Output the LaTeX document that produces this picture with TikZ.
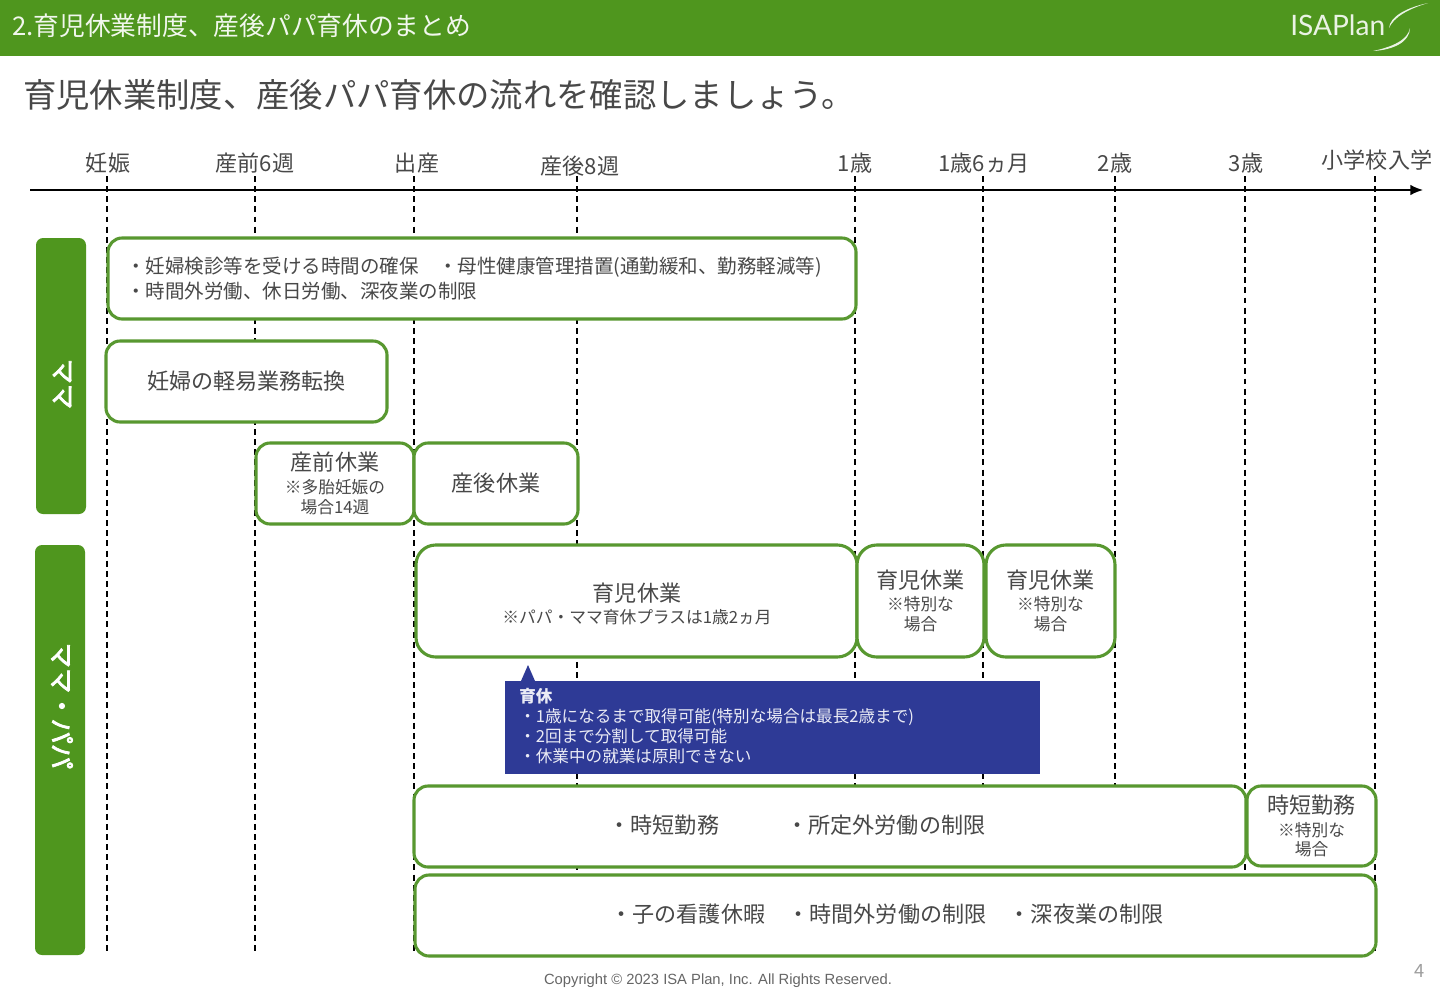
\documentclass[tikz,border=0pt]{standalone}
\usepackage{fontspec}
\setmainfont{Noto Sans CJK JP}
\newfontfamily\logofont{Lato}
\newfontfamily\copyfont{Liberation Sans}
\newfontfamily\tabfont[FakeBold=3]{Noto Sans CJK JP}
\usepackage{xcolor}
\usetikzlibrary{positioning, shapes}
\usetikzlibrary{arrows.meta}
\definecolor{leaf}{RGB}{79,150,30}
\definecolor{edgegreen}{RGB}{88,152,48}
\definecolor{navy}{RGB}{46,58,150}
\definecolor{ink}{RGB}{72,72,72}
\newcommand{\px}{0.025cm}
\newcommand{\mainsize}{\fontsize{15.7}{14.2}\selectfont}
\newcommand{\notesize}{\fontsize{11.9}{14.2}\selectfont}

\begin{document}
\begin{tikzpicture}[x=0.025cm,y=-0.025cm]
    \tikzset{ruler/.style = {dashed, dash pattern=on 4.2pt off 3pt, line width=1pt, black}}
    \tikzset{tick/.style = {inner sep=0pt, text=ink, font=\mainsize}}
    \tikzset{period/.style 2 args = {draw=edgegreen, line width=2.2pt, fill=white, rounded corners=10pt, inner sep=0pt, align=center, text=ink, font=\mainsize, minimum width=#1*\px, minimum height=#2*\px}}
    \tikzset{tab/.style 2 args = {fill=leaf, rounded corners=5pt, inner sep=0pt, minimum width=#1*\px, minimum height=#2*\px}}
    \tikzset{tablabel/.style = {rotate=-90, inner sep=0pt, text=white, font=\fontsize{18}{20}\selectfont\tabfont}}
    \tikzset{boxlabel/.style = {inner sep=0pt, text=ink, font=\mainsize}}

    \useasboundingbox (0,0) rectangle (1440,994);
    \fill[white] (0,0) rectangle (1440,994);

    % header
    \fill[leaf] (0,0) rectangle (1440,56);
    \node[inner sep=0pt, anchor=west, text=white!92!leaf, font=\fontsize{18.3}{20}\selectfont] (header) at (12,26) {2.育児休業制度、産後パパ育休のまとめ};
    \node[inner sep=0pt, anchor=west, text=white!88!leaf, font=\fontsize{20}{24}\selectfont\logofont] (logo) at (1290,25) {ISAPlan};
    \fill[white!88!leaf] (1428,3) .. controls (1405,8) and (1390,17) .. (1389,28) .. controls (1394,17) and (1408,9) .. (1428,3);
    \fill[white!88!leaf] (1410,28) .. controls (1408,40) and (1392,47) .. (1373,51) .. controls (1393,50) and (1410,42) .. (1410,28);
    \node[inner sep=0pt, anchor=west, text=ink, font=\fontsize{23.7}{28}\selectfont] (title) at (23,95) {育児休業制度、産後パパ育休の流れを確認しましょう。};

    % time points
    \node[tick] (pregnant) at (108,163) {妊娠};
    \node[tick] (before) at (255,163) {産前6週};
    \node[tick] (birth) at (417,163) {出産};
    \node[tick] (after) at (580,166) {産後8週};
    \node[tick] (age1) at (855,163) {1歳};
    \node[tick] (age1half) at (984,163) {1歳6ヵ月};
    \node[tick] (age2) at (1115,163) {2歳};
    \node[tick] (age3) at (1246,163) {3歳};
    \node[tick] (school) at (1377,160) {小学校入学};

    \coordinate (pregnanttop) at (107,176);
    \coordinate (pregnantend) at (107,955);
    \coordinate (beforetop) at (255,176);
    \coordinate (beforeend) at (255,955);
    \coordinate (birthtop) at (414,176);
    \coordinate (birthend) at (414,955);
    \coordinate (aftertop) at (577,176);
    \coordinate (afterend) at (577,875);
    \coordinate (age1top) at (855,176);
    \coordinate (age1end) at (855,790);
    \coordinate (age1halftop) at (983,176);
    \coordinate (age1halfend) at (983,790);
    \coordinate (age2top) at (1115,176);
    \coordinate (age2end) at (1115,790);
    \coordinate (age3top) at (1245,176);
    \coordinate (age3end) at (1245,870);
    \coordinate (schooltop) at (1375,176);
    \coordinate (schoolend) at (1375,955);

    \draw[ruler] (pregnanttop) -- (pregnantend);
    \draw[ruler] (beforetop) -- (beforeend);
    \draw[ruler] (birthtop) -- (birthend);
    \draw[ruler] (aftertop) -- (afterend);
    \draw[ruler] (age1top) -- (age1end);
    \draw[ruler] (age1halftop) -- (age1halfend);
    \draw[ruler] (age2top) -- (age2end);
    \draw[ruler] (age3top) -- (age3end);
    \draw[ruler] (schooltop) -- (schoolend);

    % axis
    \coordinate (axisstart) at (30,190);
    \coordinate (axisend) at (1423,190);
    \draw[-{Latex[length=9pt,width=7.5pt]}, line width=1.1pt] (axisstart) -- (axisend);

    % tabs
    \node[tab={50}{276}] (mama) at (61,376) {};
    \node[tab={50}{410}] (both) at (60,750) {};
    \node[tablabel] (mamalabel) at (62,384) {ママ};
    \node[tablabel] (bothlabel) at (62,706) {ママ・パパ};

    % mother only
    \node[period={748}{81}, align=left, text width=712*\px] (care) at (482,278.5) {\fontsize{13.87}{17}\selectfont ・妊婦検診等を受ける時間の確保　・母性健康管理措置(通勤緩和、勤務軽減等)\\[2pt]\fontsize{13.87}{17}\selectfont ・時間外労働、休日労働、深夜業の制限};
    \node[period={281}{81}] (light) at (246.5,381.5) {妊婦の軽易業務転換};
    \node[period={158}{81}] (prenatal) at (335,483.5) {産前休業\\[2pt]\notesize ※多胎妊娠の\\\notesize 場合14週};
    \node[period={164}{81}] (postnatal) at (496,483.5) {産後休業};

    % both parents
    \node[period={441}{112}, rounded corners=14pt] (leave) at (636.5,601) {};
    \node[boxlabel, align=center] (leavelabel) at (637,604) {育児休業\\[2pt]\notesize ※パパ・ママ育休プラスは1歳2ヵ月};
    \node[period={127}{112}, rounded corners=14pt] (leaveone) at (920.5,601) {育児休業\\[2pt]\notesize ※特別な\\\notesize 場合};
    \node[period={129}{112}, rounded corners=14pt] (leavetwo) at (1050.5,601) {育児休業\\[2pt]\notesize ※特別な\\\notesize 場合};

    % callout
    \node[fill=navy, inner sep=0pt, minimum width=535*\px, minimum height=93*\px, anchor=north west] (note) at (505,681) {};
    \coordinate (notetip) at (528,665);
    \coordinate (notebaseleft) at (521,681);
    \coordinate (notebaseright) at (535,681);
    \fill[navy] (notetip) -- (notebaseleft) -- (notebaseright) -- cycle;
    \node[inner sep=0pt, anchor=north west, align=left, text=white!90!navy, font=\fontsize{11.8}{14.2}\selectfont] (notetext) at (519,688) {\textbf{育休}\\・1歳になるまで取得可能(特別な場合は最長2歳まで)\\・2回まで分割して取得可能\\・休業中の就業は原則できない};

    \node[period={832}{81}] (short) at (830,826.5) {};
    \node[boxlabel] (shortlabel) at (797,825) {・時短勤務\hspace{48pt}・所定外労働の制限};
    \node[period={129}{80}] (shorttwo) at (1311.5,826) {時短勤務\\[2pt]\notesize ※特別な\\\notesize 場合};
    \node[period={961}{81}] (nursing) at (895.5,915.5) {};
    \node[boxlabel] (nursinglabel) at (887,914) {・子の看護休暇\hspace{16pt}・時間外労働の制限\hspace{16pt}・深夜業の制限};

    % footer
    \node[inner sep=0pt, text=black!60, font=\fontsize{10.5}{12}\selectfont\copyfont] (copyright) at (718,981) {Copyright © 2023 ISA Plan, Inc. All Rights Reserved.};
    \node[inner sep=0pt, text=black!38, font=\fontsize{13}{15}\selectfont] (page) at (1420,971) {4};
\end{tikzpicture}
\end{document}
